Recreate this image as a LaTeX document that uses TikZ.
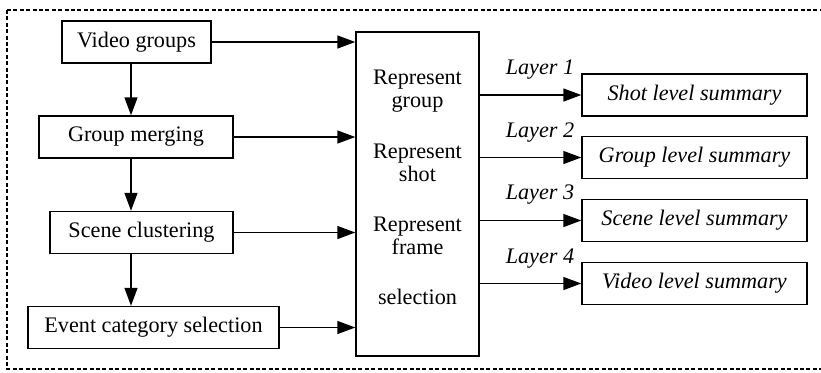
\documentclass[tikz,border=0pt]{standalone}
\usepackage{fontspec}
\setmainfont{Liberation Serif}
\usetikzlibrary{arrows.meta}
\begin{document}
\begin{tikzpicture}[x=0.5pt,y=-0.5pt,
    box/.style={draw,line width=0.7pt,minimum height=21pt,inner sep=0pt,font=\fontsize{11.1}{12}\selectfont},
    outbox/.style={box,minimum width=112.5pt,font=\fontsize{11.1}{12}\selectfont\itshape},
    midtext/.style={align=center,inner sep=0pt,font=\fontsize{11.1}{11.5}\selectfont},
    layer/.style={inner sep=0pt,font=\fontsize{11.1}{12}\selectfont\itshape},
    arr/.style={-{Triangle[length=9pt,width=6.5pt]},line width=0.7pt}]
        \useasboundingbox (0,0) rectangle (821,372);
        \draw[line width=1.4pt,dash pattern=on 2pt off 1.2pt] (7,10) -- (7,369) -- (840,369);
        \draw[line width=1.4pt,dash pattern=on 2pt off 1.2pt] (7,10) -- (840,10);
        % left column
        \node[box,minimum width=74.5pt] (vg) at (136.5,42) {Video groups};
        \node[box,minimum width=97pt] (gm) at (136,137) {Group merging};
        \node[box,minimum width=91.5pt] (sc) at (141.5,232.5) {Scene clustering};
        \node[box,minimum width=125.5pt] (ev) at (153.5,327.5) {Event category selection};
        \coordinate (col) at (131,0);
        \draw[arr] (vg.south -| col) -- (gm.north -| col);
        \draw[arr] (gm.south -| col) -- (sc.north -| col);
        \draw[arr] (sc.south -| col) -- (ev.north -| col);
        % middle
        \node[draw,line width=0.7pt,minimum width=61.5pt,minimum height=162pt] (mid) at (417.5,194) {};
        \node[midtext] (rg) at (417.5,91) {Represent\\group};
        \node[midtext] (rs) at (417.5,163) {Represent\\shot};
        \node[midtext] (rf) at (417.5,236) {Represent\\frame};
        \node[midtext] (sel) at (417.5,297) {selection};
        \draw[arr] (vg.east) -- (vg.east -| mid.west);
        \draw[arr] (gm.east) -- (gm.east -| mid.west);
        \draw[arr] (sc.east) -- (sc.east -| mid.west);
        \draw[arr] (ev.east) -- (ev.east -| mid.west);
        % summaries
        \node[outbox] (shot) at (694.5,95) {Shot level summary};
        \node[outbox] (grp) at (694.5,157.5) {Group level summary};
        \node[outbox] (scn) at (694.5,220.5) {Scene level summary};
        \node[outbox] (vid) at (694.5,283.5) {Video level summary};
        \draw[arr] (mid.east |- shot.west) -- (shot.west);
        \draw[arr] (mid.east |- grp.west) -- (grp.west);
        \draw[arr] (mid.east |- scn.west) -- (scn.west);
        \draw[arr] (mid.east |- vid.west) -- (vid.west);
        \node[layer] (l1) at (540,70) {Layer 1};
        \node[layer] (l2) at (540,133) {Layer 2};
        \node[layer] (l3) at (540,195) {Layer 3};
        \node[layer] (l4) at (540,259) {Layer 4};
\end{tikzpicture}
\end{document}
